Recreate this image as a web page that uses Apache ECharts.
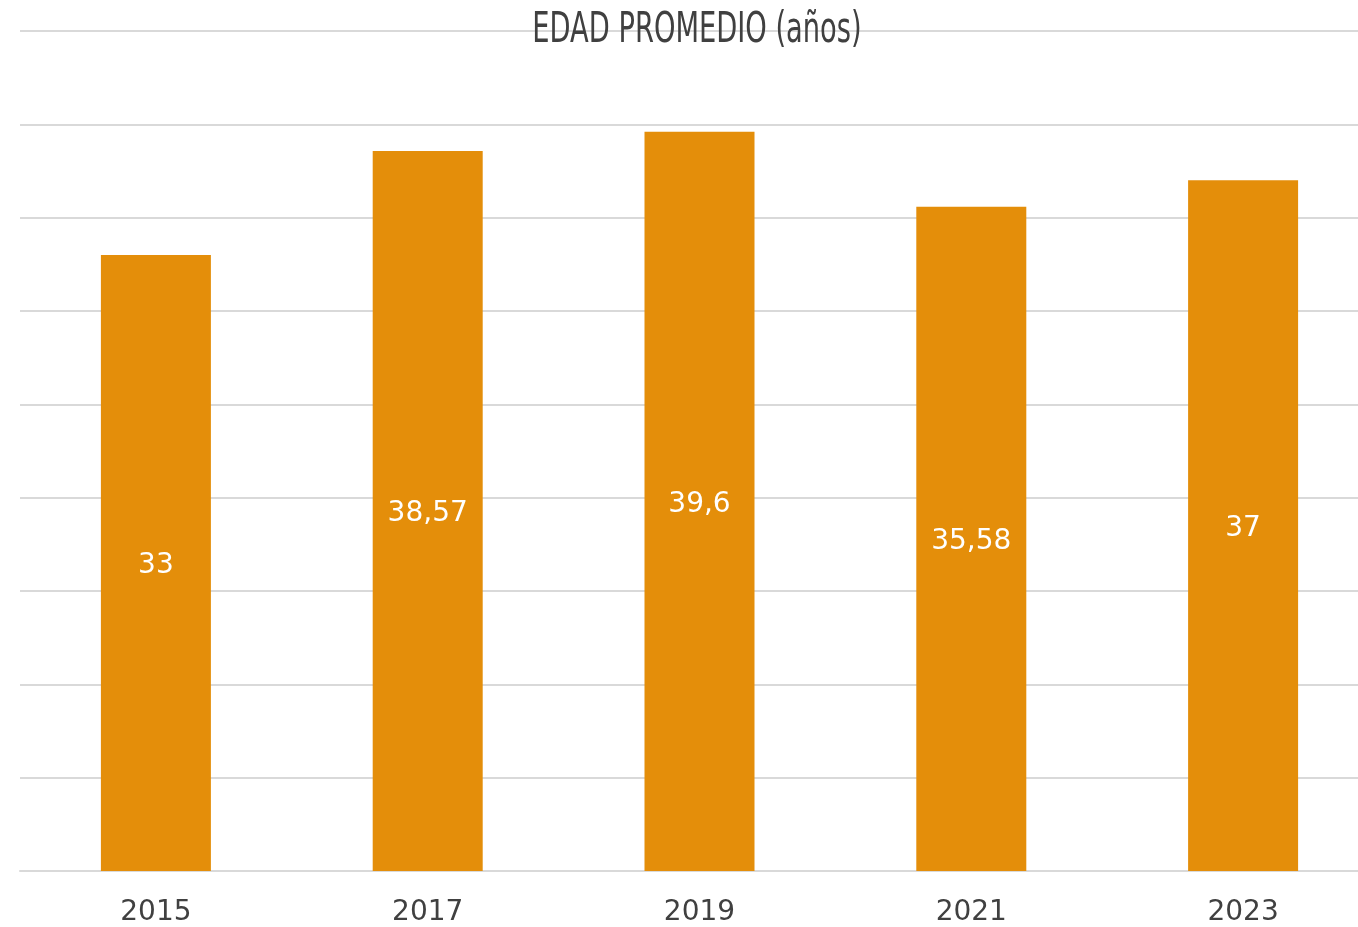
<!DOCTYPE html>
<html>
<head>
<meta charset="utf-8">
<script src="https://cdn.jsdelivr.net/npm/echarts@6/dist/echarts.min.js"></script>
<style>
  html, body { margin: 0; padding: 0; background: #fff; overflow: hidden; }
  #main { width: 1400px; height: 927px; }
</style>
</head>
<body>
<div id="main"></div>
<script>
// datos
var years = ['2015', '2017', '2019', '2021', '2023']
var edadPromedio = [33, 38.57, 39.6, 35.58, 37]
var titulo = 'EDAD PROMEDIO (años)'

var myChart = echarts.init(document.getElementById('main'))
var option = {
  backgroundColor: '#ffffff',
  animation: false,
  graphic: [
    {
      // titulo condensado
      type: 'text',
      x: 697,
      y: 31,
      scaleX: 0.65,
      z: 10,
      style: {
        text: titulo,
        fill: '#404040',
        font: '42px "DejaVu Sans", sans-serif',
        textAlign: 'center',
        textVerticalAlign: 'middle'
      }
    }
  ],
  grid: {
    left: 20,
    top: 31,
    width: 1359,
    height: 841
  },
  xAxis: {
    type: 'category',
    data: years,
    axisTick: { show: false },
    axisLine: { lineStyle: { color: '#d9d9d9', width: 2 } },
    axisLabel: {
      color: '#404040',
      fontSize: 28,
      fontFamily: 'DejaVu Sans, sans-serif',
      margin: 28
    }
  },
  yAxis: {
    type: 'value',
    min: 0,
    max: 45,
    interval: 5,
    axisLabel: { show: false },
    axisLine: { show: false },
    axisTick: { show: false },
    splitLine: { lineStyle: { color: '#d9d9d9', width: 2 } }
  },
  series: [
    {
      type: 'bar',
      data: edadPromedio,
      barWidth: 110,
      itemStyle: { color: '#e48e0a' },
      label: {
        show: true,
        position: 'inside',
        offset: [0, 3],
        color: '#ffffff',
        fontSize: 28,
        fontFamily: 'DejaVu Sans, sans-serif',
        formatter: function(p) {
          return String(p.value).replace('.', ',')
        }
      }
    }
  ]
}
myChart.setOption(option)
</script>
</body>
</html>
